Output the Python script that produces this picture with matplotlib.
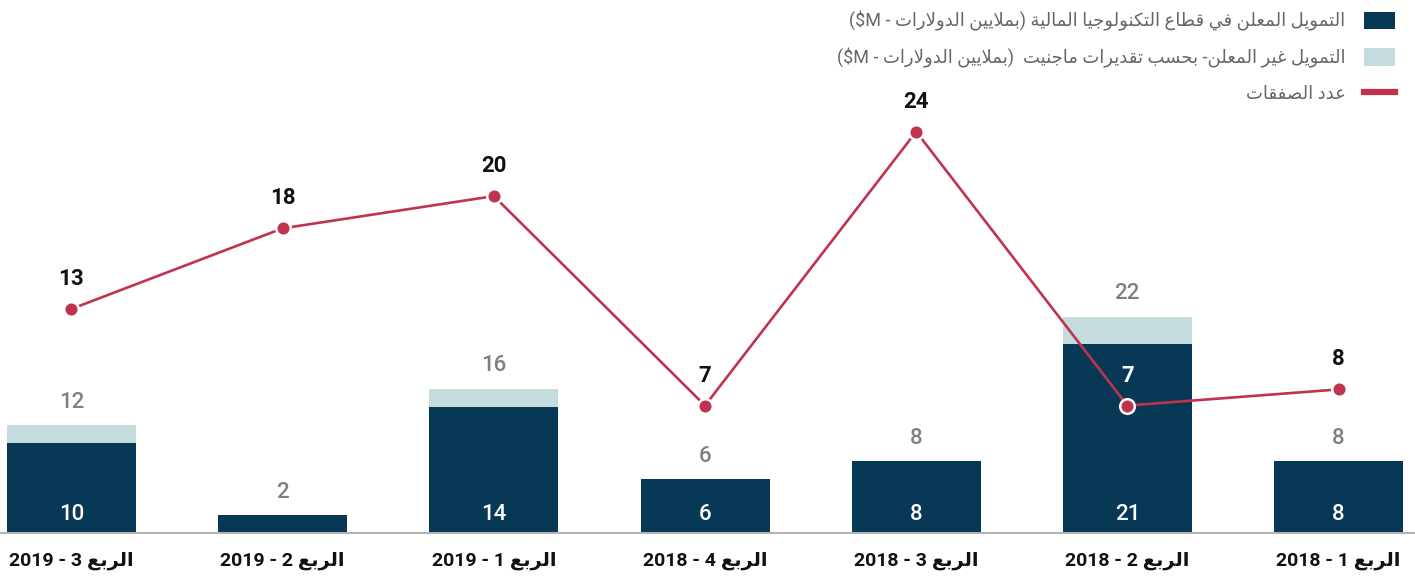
import re
import matplotlib
matplotlib.use("Agg")
import matplotlib.pyplot as plt
from matplotlib.patches import Patch
from matplotlib.lines import Line2D

# ---------------- data ----------------
categories = ["الربع 3 - 2019", "الربع 2 - 2019", "الربع 1 - 2019", "الربع 4 - 2018",
              "الربع 3 - 2018", "الربع 2 - 2018", "الربع 1 - 2018"]
announced = [10, 2, 14, 6, 8, 21, 8]
unannounced = [2, 0, 2, 0, 0, 3, 0]          # as drawn
total_labels = [12, 2, 16, 6, 8, 22, 8]
deals = [13, 18, 20, 7, 24, 7, 8]
legend_labels = ["التمويل المعلن في قطاع التكنولوجيا المالية (بملايين الدولارات - $M)",
                 "التمويل غير المعلن- بحسب تقديرات ماجنيت  (بملايين الدولارات - $M)",
                 "عدد الصفقات"]

DARK = "#073855"
LIGHT = "#c5dcdf"
RED = "#c0334f"
GREY = "#808080"

# ---------------- Arabic shaping (presentation forms) ----------------
FORMS = {
    '\u0627': (0xFE8D, 0xFE8E, None, None),
    '\u0628': (0xFE8F, 0xFE90, 0xFE91, 0xFE92),
    '\u0629': (0xFE93, 0xFE94, None, None),
    '\u062A': (0xFE95, 0xFE96, 0xFE97, 0xFE98),
    '\u062C': (0xFE9D, 0xFE9E, 0xFE9F, 0xFEA0),
    '\u062D': (0xFEA1, 0xFEA2, 0xFEA3, 0xFEA4),
    '\u062F': (0xFEA9, 0xFEAA, None, None),
    '\u0631': (0xFEAD, 0xFEAE, None, None),
    '\u0633': (0xFEB1, 0xFEB2, 0xFEB3, 0xFEB4),
    '\u0635': (0xFEB9, 0xFEBA, 0xFEBB, 0xFEBC),
    '\u0637': (0xFEC1, 0xFEC2, 0xFEC3, 0xFEC4),
    '\u0639': (0xFEC9, 0xFECA, 0xFECB, 0xFECC),
    '\u063A': (0xFECD, 0xFECE, 0xFECF, 0xFED0),
    '\u0641': (0xFED1, 0xFED2, 0xFED3, 0xFED4),
    '\u0642': (0xFED5, 0xFED6, 0xFED7, 0xFED8),
    '\u0643': (0xFED9, 0xFEDA, 0xFEDB, 0xFEDC),
    '\u0644': (0xFEDD, 0xFEDE, 0xFEDF, 0xFEE0),
    '\u0645': (0xFEE1, 0xFEE2, 0xFEE3, 0xFEE4),
    '\u0646': (0xFEE5, 0xFEE6, 0xFEE7, 0xFEE8),
    '\u0647': (0xFEE9, 0xFEEA, 0xFEEB, 0xFEEC),
    '\u0648': (0xFEED, 0xFEEE, None, None),
    '\u064A': (0xFEF1, 0xFEF2, 0xFEF3, 0xFEF4),
}


def _joins_next(c):
    return c in FORMS and FORMS[c][2] is not None


def shape(s):
    res = []
    n = len(s)
    i = 0
    while i < n:
        c = s[i]
        if c not in FORMS:
            res.append(c)
            i += 1
            continue
        prev = s[i - 1] if i > 0 else None
        jp = prev is not None and _joins_next(prev)
        if c == '\u0644' and i + 1 < n and s[i + 1] == '\u0627':
            res.append(chr(0xFEFC if jp else 0xFEFB))
            i += 2
            continue
        nxt = s[i + 1] if i + 1 < n else None
        jn = _joins_next(c) and nxt in FORMS
        iso, fin, ini, med = FORMS[c]
        if jp and jn:
            g = med
        elif jp:
            g = fin
        elif jn:
            g = ini
        else:
            g = iso
        res.append(chr(g))
        i += 1
    return ''.join(res)


def visual(s):
    s = shape(s)
    tokens = re.findall(r'[A-Za-z0-9$]+|.', s)
    mirror = {'(': ')', ')': '('}
    return ''.join(mirror.get(t, t) for t in reversed(tokens))


FAM = ['Roboto', 'DejaVu Sans']
plt.rcParams['font.family'] = FAM

# ---------------- figure ----------------
W, H = 1415, 578
fig = plt.figure(figsize=(W / 100, H / 100), dpi=100)
base_px = 44.7
top_px = 478
ax = fig.add_axes([0, base_px / H, 1, (top_px - base_px) / H])
ax2 = ax.twinx()

x = list(range(len(categories)))
spacing = 211.17
c0 = 71.5
ax.set_xlim(-c0 / spacing, (W - c0) / spacing)
bar_w = 129 / spacing
ax.set_ylim(0, (top_px - base_px) / 9.03)

ax.bar(x, announced, width=bar_w, color=DARK, zorder=2)
ax.bar(x, unannounced, bottom=announced, width=bar_w, color=LIGHT, zorder=2)

for i in x:
    top = announced[i] + unannounced[i]
    ax.annotate(str(total_labels[i]), (i, top), xytext=(0, 16.5), textcoords='offset points',
                ha='center', va='center', color=GREY, fontsize=16, fontweight='medium',
                family=FAM)
    if announced[i] >= 5:
        ax.annotate(str(announced[i]), (i, 0), xytext=(0, 13.5), textcoords='offset points',
                    ha='center', va='center', color='white', fontsize=16, fontweight='medium',
                    family=FAM)

# line axis
px_per = 16.11
zero_from_top = 518.3
ax2.set_ylim((zero_from_top - (H - base_px)) / px_per, (zero_from_top - (H - top_px)) / px_per)
ax2.plot(x, deals, color=RED, lw=1.9, marker='o', markersize=10.5, markerfacecolor=RED,
         markeredgecolor='white', markeredgewidth=1.8, zorder=3)

fig.canvas.draw()
for i in x:
    lab_y = ax2.transData.transform((i, deals[i]))[1] + 30
    bar_top = ax.transData.transform((i, announced[i] + unannounced[i]))[1]
    col = 'white' if lab_y < bar_top else '#111111'
    ax2.annotate(str(deals[i]), (i, deals[i]), xytext=(0, 21.6), textcoords='offset points',
                 ha='center', va='center', color=col, fontsize=16, fontweight='bold',
                 family=FAM)

# axes styling
for a in (ax, ax2):
    for s in ('top', 'right', 'left'):
        a.spines[s].set_visible(False)
    a.set_yticks([])
ax2.spines['bottom'].set_visible(False)
ax.spines['bottom'].set_color('#b3b3b3')
ax.spines['bottom'].set_linewidth(1.5)
ax.set_xticks(x)
ax.set_xticklabels([visual(c) for c in categories], fontsize=14, fontweight='bold',
                   family=FAM, color='#111111')
ax.tick_params(axis='x', length=0, pad=13)

# legend
handles = [Patch(facecolor=DARK, edgecolor='none'),
           Patch(facecolor=LIGHT, edgecolor='none'),
           Line2D([], [], color=RED, lw=4.5)]
fig.legend(handles, [visual(t) for t in legend_labels], loc='upper right',
           bbox_to_anchor=(1406 / W, 1.0), frameon=False, markerfirst=False,
           prop={'family': FAM, 'size': 13}, labelcolor='#666666',
           handlelength=1.75, handleheight=1.1, labelspacing=0.92, handletextpad=1.0,
           borderaxespad=0.3, borderpad=0.3)

fig.savefig("out.png", dpi=100)
